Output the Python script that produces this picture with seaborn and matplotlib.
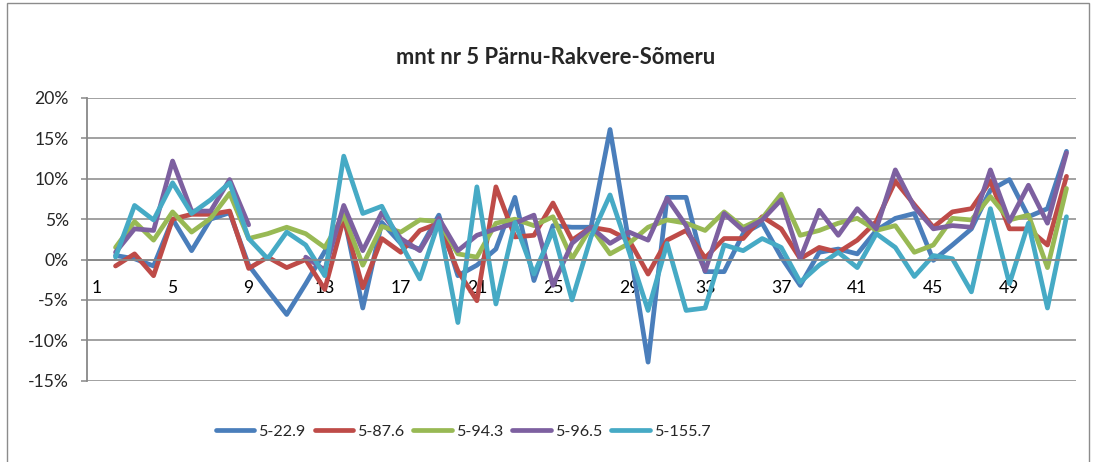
import numpy as np
import pandas as pd
import matplotlib
matplotlib.use('Agg')
import matplotlib.pyplot as plt
import seaborn as sns
from matplotlib.patches import Rectangle
from matplotlib.ticker import FixedLocator, FuncFormatter

# andmed (protsent), kategooria 1 on tühi
categories = list(range(1, 53))
series_names = ['5-22.9', '5-87.6', '5-94.3', '5-96.5', '5-155.7']
colors = ['#4a7ebb', '#be4b48', '#98b954', '#7d60a0', '#46aac5']

s_22_9 = [None, 0.5, 0.1, -0.8, 5.0, 1.1, 5.0, 5.8, -0.7, -3.8,
          -6.8, -3.0, 1.0, 5.5, -6.0, 4.6, 2.0, 1.3, 5.5, -2.0,
          -0.7, 1.3, 7.7, -2.6, 4.2, 4.0, 4.0, 16.1, 2.0, -12.7,
          7.7, 7.7, -1.5, -1.5, 3.2, 4.5, 0.3, -3.2, 0.9, 1.3,
          0.7, 3.6, 5.1, 5.7, -0.1, 1.8, 3.8, 8.6, 9.9, 5.3,
          6.3, 13.4]
s_87_6 = [None, -0.8, 0.7, -2.0, 5.0, 5.6, 5.6, 6.0, -1.1, 0.3,
          -1.0, 0.0, -3.7, 5.1, -3.5, 2.6, 0.9, 3.6, 4.5, -1.4,
          -5.1, 9.0, 2.8, 3.0, 7.0, 2.4, 4.0, 3.6, 2.4, -1.8,
          2.4, 3.6, 0.2, 2.6, 2.6, 5.3, 3.8, 0.1, 1.5, 0.9,
          2.4, 4.7, 9.7, 6.8, 4.0, 5.9, 6.3, 9.7, 3.8, 3.8,
          1.8, 10.3]
s_94_3 = [None, 1.5, 4.7, 2.4, 5.9, 3.4, 5.1, 8.2, 2.6, 3.2,
          4.0, 3.2, 1.5, 5.5, -0.7, 4.1, 3.4, 4.9, 4.7, 0.7,
          0.3, 4.5, 5.0, 4.2, 5.3, 0.1, 4.0, 0.7, 2.0, 4.0,
          4.9, 4.5, 3.6, 5.9, 4.0, 5.1, 8.1, 3.0, 3.6, 4.5,
          5.1, 3.6, 4.2, 0.9, 1.8, 5.1, 4.9, 7.8, 4.9, 5.5,
          -1.0, 8.8]
s_96_5 = [None, 0.9, 3.8, 3.6, 12.2, 6.0, 6.0, 9.9, 4.3, None,
          None, 0.3, -1.3, 6.7, 1.1, 5.8, 2.6, 1.1, 5.1, 1.1,
          3.0, 3.8, 4.5, 5.5, -3.2, 2.0, 4.0, 2.0, 3.4, 2.4,
          7.6, 4.2, -1.4, 5.7, 3.6, 4.9, 7.4, 0.1, 6.1, 3.0,
          6.3, 3.8, 11.1, 6.5, 3.8, 4.2, 4.0, 11.1, 4.7, 9.2,
          4.5, 13.2]
s_155_7 = [None, 0.3, 6.7, 4.9, 9.5, 5.7, 7.4, 9.5, 2.6, 0.1,
           3.4, 1.8, -2.0, 12.8, 5.7, 6.6, 2.0, -2.4, 4.7, -7.8,
           9.0, -5.5, 4.6, -1.8, 3.6, -5.0, 2.8, 8.0, 1.0, -6.3,
           2.0, -6.3, -6.0, 1.8, 1.1, 2.6, 1.5, -2.8, -0.7, 0.9,
           -1.0, 3.2, 1.5, -2.1, 0.5, 0.1, -4.0, 6.3, -3.0, 4.5,
           -6.0, 5.3]
y_ticks = [-15, -10, -5, 0, 5, 10, 15, 20]
x_labels = list(range(1, 53, 4))

# pikk tabel; lõigud (seg) katkevad tühjade väärtuste kohal
rows = []
for name, vals in zip(series_names, [s_22_9, s_87_6, s_94_3, s_96_5, s_155_7]):
    seg = 0
    for cat, v in zip(categories, vals):
        if v is None:
            seg += 1
            continue
        rows.append({'nr': cat, 'muutus': v, 'seeria': name, 'seg': seg})
df = pd.DataFrame(rows)

sns.set_style('white')
plt.rcParams['font.family'] = ['Lato', 'DejaVu Sans']

fig = plt.figure(figsize=(10.95, 4.62), dpi=100)
ax = fig.add_axes([87 / 1095, 1 - 380.7 / 462, (1076 - 87) / 1095, (380.7 - 98) / 462])

sns.lineplot(data=df, x='nr', y='muutus', hue='seeria', hue_order=series_names,
             units='seg', estimator=None, palette=dict(zip(series_names, colors)),
             linewidth=3.4, solid_joinstyle='round', ax=ax, legend=True)

ax.set_xlim(0.5, len(categories) + 0.5)
ax.set_ylim(y_ticks[0], y_ticks[-1])
ax.set_xlabel('')
ax.set_ylabel('')

grid_c = '#888888'
ax.yaxis.set_major_locator(FixedLocator(y_ticks))
ax.yaxis.set_major_formatter(FuncFormatter(lambda v, p: f'{v:.0f}%'))
ax.grid(axis='y', color=grid_c, linewidth=1.1)
ax.grid(axis='x', visible=False)
ax.set_axisbelow(True)

for s in ['top', 'right']:
    ax.spines[s].set_visible(False)
ax.spines['left'].set_color(grid_c)
ax.spines['left'].set_linewidth(1.3)
ax.spines['bottom'].set_position(('data', 0))
ax.spines['bottom'].set_color(grid_c)
ax.spines['bottom'].set_linewidth(1.3)

ax.xaxis.set_major_locator(FixedLocator(x_labels))
ax.xaxis.set_minor_locator(FixedLocator(np.arange(0.5, len(categories) + 1, 1)))
ax.tick_params(axis='x', which='major', length=0, pad=15, labelsize=12.6, colors='black')
ax.tick_params(axis='x', which='minor', length=4, width=1.1, color=grid_c, direction='out')
ax.tick_params(axis='y', which='major', length=4, width=1.1, color=grid_c, left=True,
               pad=9, labelsize=12.6)

fig.text(556 / 1095, 1 - 57 / 462, 'mnt nr 5 Pärnu-Rakvere-Sõmeru', ha='center', va='center',
         fontsize=15.8, fontweight='bold')

handles, labels = ax.get_legend_handles_labels()
leg = ax.legend(handles, labels, ncol=5, loc='center', bbox_to_anchor=(463 / 1095, 1 - 432 / 462),
                bbox_transform=fig.transFigure, frameon=False, fontsize=11.6,
                handlelength=2.4, handletextpad=0.25, columnspacing=0.55)
for h in leg.legend_handles:
    h.set_linewidth(3.4)
    h.set_solid_capstyle('round')

fig.patches.append(Rectangle((7 / 1095, -0.01), (1089 - 7) / 1095, 1 - 3 / 462 + 0.01,
                             transform=fig.transFigure, fill=False, edgecolor='#8c8c8c',
                             linewidth=1.0))

fig.savefig('out.png', dpi=100)
